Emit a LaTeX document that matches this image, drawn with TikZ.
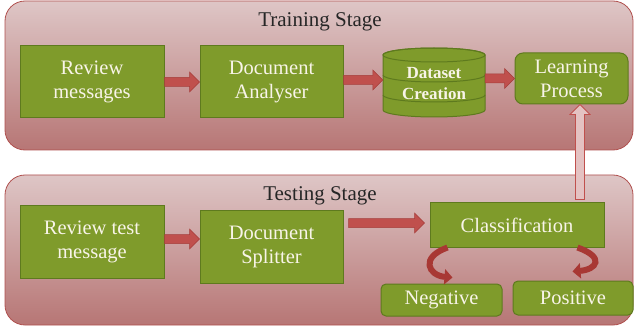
\documentclass[tikz,border=0pt]{standalone}
\usepackage{fontspec}
\setmainfont{Liberation Serif}
\usetikzlibrary{calc,arrows.meta}
\definecolor{gfill}{HTML}{7F9B2B}
\definecolor{gdraw}{HTML}{5E7A1E}
\definecolor{ptop}{HTML}{DEC6C6}
\definecolor{pbot}{HTML}{B77675}
\definecolor{pdraw}{HTML}{B0504E}
\definecolor{arrred}{HTML}{C0504D}
\definecolor{arrdark}{HTML}{A53E3B}
\definecolor{curvred}{HTML}{A83834}
\definecolor{upfill}{HTML}{E4C2C2}
\definecolor{txt}{HTML}{F8F4E8}
\tikzset{
  panel/.style={top color=ptop, bottom color=pbot, draw=pdraw, line width=0.8pt, rounded corners=20pt},
  gbox/.style={fill=gfill, draw=gdraw, line width=1pt, text=txt, align=center, font=\fontsize{20.5}{24}\selectfont, inner sep=0pt},
  stagelbl/.style={font=\fontsize{21}{24}\selectfont, text=black!85},
  blockarr/.style={fill=arrred, draw=arrdark, line width=0.5pt,
    to path={let \p1=(\tikztostart), \p2=(\tikztotarget), \n1={atan2(\y2-\y1,\x2-\x1)}, \n2={veclen(\x2-\x1,\y2-\y1)} in
      [shift={(\p1)}, rotate=\n1] (0pt,-4.5pt) -- ({\n2-10pt},-4.5pt) -- ({\n2-10pt},-10pt) -- (\n2,0pt) -- ({\n2-10pt},10pt) -- ({\n2-10pt},4.5pt) -- (0pt,4.5pt) -- cycle}},
  uparr/.style={blockarr, fill=upfill, draw=arrred, line width=0.8pt},
  curvarr/.style={draw=curvred, line width=6pt, -{Triangle[width=15pt,length=8pt]}},
  cylfill/.style={fill=gfill, draw=gdraw, line width=1pt}
}
\begin{document}
\begin{tikzpicture}[x=1pt,y=-1pt]
\useasboundingbox (0,0) rectangle (635,326);
% panels
\path[panel] (5,1) rectangle (633,150);
\path[panel] (5,175) rectangle (633,325);
\node[stagelbl] (trainlbl) at (320,22) {Training Stage};
\node[stagelbl] (testlbl) at (320,196) {Testing Stage};
% training row
\node[gbox, minimum width=144pt, minimum height=72pt] (rm) at (92,82) {Review\\messages};
\node[gbox, minimum width=143pt, minimum height=72pt] (da) at (271.5,82) {Document\\Analyser};
% cylinder
\path[cylfill] (383,55) -- (383,110) arc[start angle=180,end angle=360,x radius=51pt,y radius=7pt] -- (485,55) arc[start angle=0,end angle=180,x radius=51pt,y radius=7pt] -- cycle;
\draw[gdraw, line width=1pt] (434,55) ellipse[x radius=51pt, y radius=7pt];
\draw[gdraw, line width=1pt] (383,75) arc[start angle=180,end angle=360,x radius=51pt,y radius=7pt];
\draw[gdraw, line width=1pt] (383,95) arc[start angle=180,end angle=360,x radius=51pt,y radius=7pt];
\node[minimum width=102pt, minimum height=50pt, inner sep=0pt, align=center, text=txt, font=\fontsize{17}{21}\bfseries\selectfont] (ds) at (434,84) {Dataset\\Creation};
\node[gbox, rounded corners=8pt, minimum width=113pt, minimum height=51pt] (lp) at (571.5,78.5) {Learning\\Process};
% testing row
\node[gbox, minimum width=144pt, minimum height=72pt] (rt) at (92,242) {Review test\\message};
\node[gbox, minimum width=143pt, minimum height=72pt] (dsp) at (271.5,247) {Document\\Splitter};
\node[gbox, minimum width=174pt, minimum height=44pt] (cls) at (517,225) {Classification};
\node[gbox, rounded corners=5pt, minimum width=121pt, minimum height=32pt] (neg) at (441.5,300) {Negative};
\node[gbox, rounded corners=5pt, minimum width=120pt, minimum height=34pt] (pos) at (573,298) {Positive};
% connectors
\draw[blockarr] (rm.east) to (da.west);
\coordinate (a2s) at ($(da.east)+(0,-2)$);
\coordinate (a2e) at (a2s -| ds.west);
\draw[blockarr] (a2s) to (a2e);
\coordinate (a3s) at (ds.east |- lp.west);
\draw[blockarr] (a3s) to (lp.west);
\coordinate (a4s) at ($(rt.east)+(0,-3)$);
\coordinate (a4e) at (a4s -| dsp.west);
\draw[blockarr] (a4s) to (a4e);
\coordinate (a5s) at ($(dsp.east |- cls.west)+(5,-2)$);
\coordinate (a5e) at ($(cls.west)+(-5,-2)$);
\draw[blockarr] (a5s) to (a5e);
\coordinate (upS) at ($(lp.south |- cls.north)+(8.5,-3)$);
\coordinate (upE) at ($(lp.south)+(8.5,0)$);
\draw[uparr] (upS) to (upE);
\draw[curvarr] ($(cls.south west)+(18,0)$) .. controls +(-28,10) and +(-24,-2) .. ($(neg.north west)+(72,-6)$);
\draw[curvarr] ($(cls.south west)+(148,0)$) .. controls +(28,10) and +(24,-2) .. ($(pos.north west)+(60,-9)$);
\end{tikzpicture}
\end{document}
